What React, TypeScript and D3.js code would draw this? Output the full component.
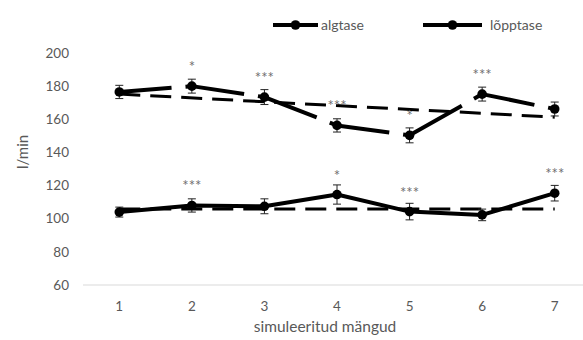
import React, { useEffect, useRef } from "react";
import * as d3 from "d3";

const games = [1, 2, 3, 4, 5, 6, 7];
const yTicks = [60, 80, 100, 120, 140, 160, 180, 200];

// lower series
const algtase = [104, 108, 107.5, 114.6, 104.3, 102.3, 115.4];
const algtaseErr = [3, 4, 4.5, 5.8, 5, 3.5, 4.7];
const algtaseStars = ["", "***", "", "*", "***", "", "***"];
const algtaseTrend = [105.8, 105.8];

// upper series
const lopptase = [176.5, 180, 173.4, 156.3, 150.3, 175.2, 166.2];
const lopptaseErr = [4, 4.2, 4.5, 4, 4.5, 4.2, 4.2];
const lopptaseStars = ["", "*", "***", "***", "*", "***", ""];
const lopptaseTrend = [175.2, 161.3];

const FONT = "Lato, 'Open Sans', sans-serif";
const GREY = "#595959";

const App = () => {
  const svgRef = useRef<SVGSVGElement>(null);

  useEffect(() => {
    document.body.style.margin = "0";
    const svg = d3.select(svgRef.current);
    svg.selectAll("*").remove();

    const x = d3.scaleBand<number>().domain(games).range([83, 591]);
    const cx = (g: number) => (x(g) as number) + x.bandwidth() / 2;
    const y = d3.scaleLinear().domain([60, 200]).range([285, 53]);

    // axis line
    svg
      .append("line")
      .attr("x1", 83)
      .attr("x2", 583)
      .attr("y1", y(60))
      .attr("y2", y(60))
      .attr("stroke", "#d9d9d9")
      .attr("stroke-width", 1);

    svg
      .selectAll(".ytick")
      .data(yTicks)
      .join("text")
      .attr("class", "ytick")
      .attr("x", 69)
      .attr("y", (d) => y(d))
      .attr("dy", "0.35em")
      .attr("text-anchor", "end")
      .attr("font-family", FONT)
      .attr("font-size", 13.5)
      .attr("fill", GREY)
      .text((d) => d);

    svg
      .selectAll(".xtick")
      .data(games)
      .join("text")
      .attr("class", "xtick")
      .attr("x", (d) => cx(d))
      .attr("y", 306)
      .attr("dy", "0.35em")
      .attr("text-anchor", "middle")
      .attr("font-family", FONT)
      .attr("font-size", 13.5)
      .attr("fill", GREY)
      .text((d) => d);

    svg
      .append("text")
      .attr("x", 325)
      .attr("y", 332)
      .attr("text-anchor", "middle")
      .attr("font-family", FONT)
      .attr("font-size", 15.5)
      .attr("fill", GREY)
      .text("simuleeritud mängud");

    svg
      .append("text")
      .attr("transform", "translate(23,152) rotate(-90)")
      .attr("dy", "0.35em")
      .attr("text-anchor", "middle")
      .attr("font-family", FONT)
      .attr("font-size", 15)
      .attr("fill", GREY)
      .text("l/min");

    const drawSeries = (
      vals: number[],
      errs: number[],
      stars: string[],
      trend: number[],
      gapped: boolean
    ) => {
      const g = svg.append("g");
      // trendline
      g.append("line")
        .attr("x1", cx(games[0]))
        .attr("x2", cx(games[games.length - 1]))
        .attr("y1", y(trend[0]))
        .attr("y2", y(trend[1]))
        .attr("stroke", "#000")
        .attr("stroke-width", 3)
        .attr("stroke-dasharray", "21 10");

      const pts = vals.map((v, i) => [cx(games[i]), y(v)] as [number, number]);
      if (gapped) {
        for (let i = 0; i < pts.length - 1; i++) {
          const [x1, y1] = pts[i];
          const [x2, y2] = pts[i + 1];
          const L = Math.hypot(x2 - x1, y2 - y1);
          g.append("line")
            .attr("x1", x1)
            .attr("y1", y1)
            .attr("x2", x2)
            .attr("y2", y2)
            .attr("stroke", "#000")
            .attr("stroke-width", 4)
            .attr("stroke-dasharray", `${L * 0.72} 14 ${L}`);
        }
      } else {
        g.append("path")
          .attr("d", d3.line()(pts) as string)
          .attr("fill", "none")
          .attr("stroke", "#000")
          .attr("stroke-width", 4)
          .attr("stroke-linejoin", "round");
      }

      // error bars
      vals.forEach((v, i) => {
        const px = cx(games[i]);
        const top = y(v + errs[i]);
        const bot = y(v - errs[i]);
        g.append("line")
          .attr("x1", px).attr("x2", px)
          .attr("y1", top).attr("y2", bot)
          .attr("stroke", "#222").attr("stroke-width", 1);
        [top, bot].forEach((yy) =>
          g.append("line")
            .attr("x1", px - 4).attr("x2", px + 4)
            .attr("y1", yy).attr("y2", yy)
            .attr("stroke", "#222").attr("stroke-width", 1)
        );
      });

      g.selectAll("circle")
        .data(vals)
        .join("circle")
        .attr("cx", (d, i) => cx(games[i]))
        .attr("cy", (d) => y(d))
        .attr("r", 4.8)
        .attr("fill", "#000");

      g.selectAll(".star")
        .data(vals)
        .join("text")
        .attr("class", "star")
        .attr("x", (d, i) => cx(games[i]))
        .attr("y", (d) => y(d) - 14)
        .attr("text-anchor", "middle")
        .attr("font-family", FONT)
        .attr("font-size", 15)
        .attr("fill", "#6f6f6f")
        .text((d, i) => stars[i]);
    };

    drawSeries(algtase, algtaseErr, algtaseStars, algtaseTrend, false);
    drawSeries(lopptase, lopptaseErr, lopptaseStars, lopptaseTrend, true);

    // legend
    const legend = [
      { name: "algtase", x1: 273, x2: 318, tx: 321 },
      { name: "lõpptase", x1: 423, x2: 482, tx: 490 },
    ];
    legend.forEach((l) => {
      svg.append("line")
        .attr("x1", l.x1).attr("x2", l.x2)
        .attr("y1", 25).attr("y2", 25)
        .attr("stroke", "#000").attr("stroke-width", 4);
      svg.append("circle")
        .attr("cx", (l.x1 + l.x2) / 2).attr("cy", 25)
        .attr("r", 4.8).attr("fill", "#000");
      svg.append("text")
        .attr("x", l.tx).attr("y", 25).attr("dy", "0.35em")
        .attr("font-family", FONT).attr("font-size", 14)
        .attr("fill", GREY).text(l.name);
    });
  }, []);

  return <svg ref={svgRef} width={583} height={340} style={{ display: "block" }} />;
};

export default App;
